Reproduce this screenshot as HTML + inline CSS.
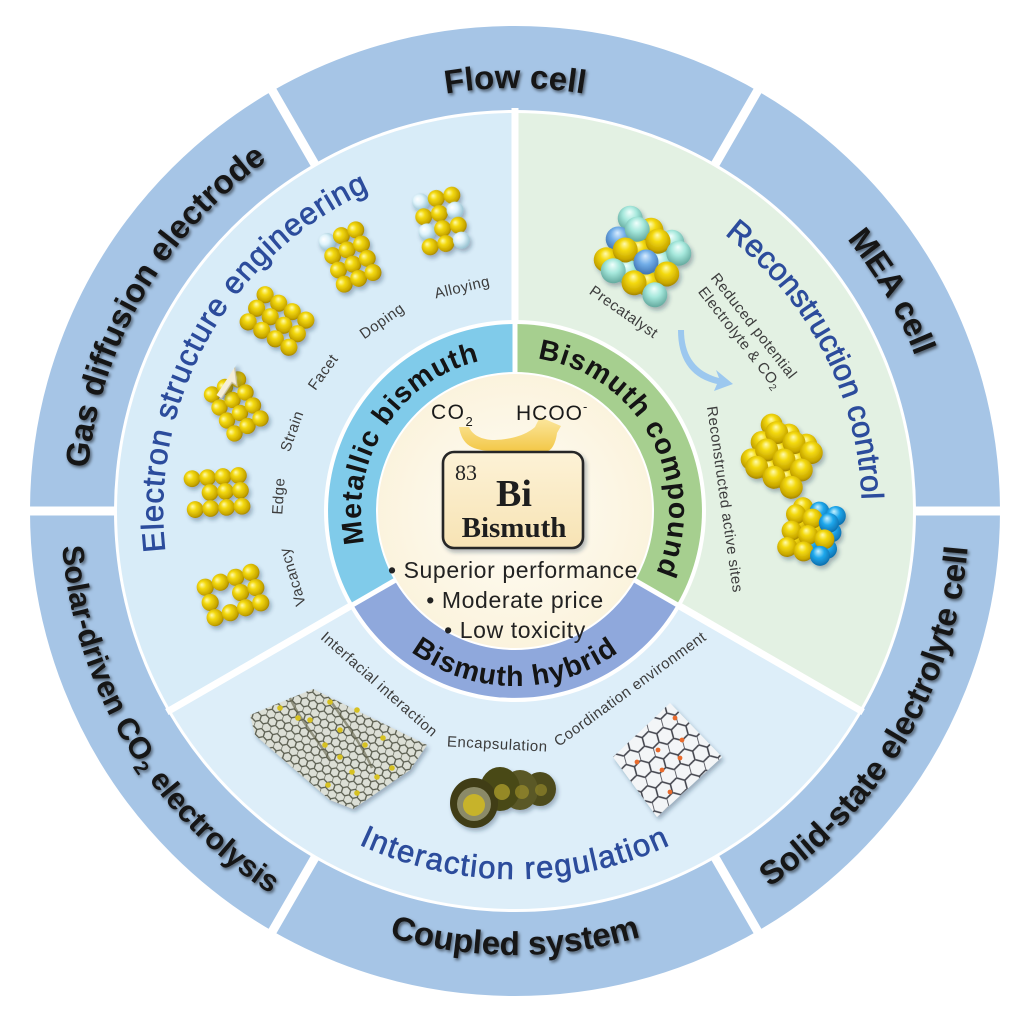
<!DOCTYPE html>
<html><head><meta charset="utf-8"><style>
html,body{margin:0;padding:0;background:#fff;}
svg{display:block;}
.ob{font-family:"Liberation Sans",Arial,sans-serif;font-weight:bold;font-size:33px;fill:#141414;text-anchor:middle;}
.mt{font-family:"Liberation Sans",Arial,sans-serif;font-size:31px;fill:#2c4c9c;stroke:#2c4c9c;stroke-width:0.7px;text-anchor:middle;}
.ib{font-family:"Liberation Sans",Arial,sans-serif;font-weight:bold;font-size:28.5px;fill:#141414;text-anchor:middle;letter-spacing:1px;}
.sl{font-family:"Liberation Sans",Arial,sans-serif;font-size:15px;fill:#3c3c3c;text-anchor:middle;letter-spacing:0.5px;}
.bl{font-family:"Liberation Sans",Arial,sans-serif;font-size:23px;fill:#222;text-anchor:middle;letter-spacing:0.6px;}
</style></head><body>
<svg width="1024" height="1024" viewBox="0 0 1024 1024" xmlns="http://www.w3.org/2000/svg">
<defs>
<filter id="ts" filterUnits="userSpaceOnUse" x="0" y="0" width="1024" height="1024"><feDropShadow dx="1.5" dy="2" stdDeviation="1.6" flood-color="#000" flood-opacity="0.55"/></filter>
<filter id="sh" filterUnits="userSpaceOnUse" x="0" y="0" width="1024" height="1024"><feDropShadow dx="2" dy="3" stdDeviation="2" flood-color="#1a3550" flood-opacity="0.35"/></filter>
<radialGradient id="gy" cx="45%" cy="42%" r="62%" fx="35%" fy="30%"><stop offset="0" stop-color="#fffbb0"/><stop offset="0.35" stop-color="#f4da10"/><stop offset="0.8" stop-color="#c9a800"/><stop offset="1" stop-color="#9a7c00"/></radialGradient>
<radialGradient id="gl" cx="45%" cy="42%" r="62%" fx="35%" fy="30%"><stop offset="0" stop-color="#ffffff"/><stop offset="0.45" stop-color="#dff3fb"/><stop offset="1" stop-color="#8fbccc"/></radialGradient>
<radialGradient id="ga" cx="45%" cy="42%" r="62%" fx="35%" fy="30%"><stop offset="0" stop-color="#f0fffc"/><stop offset="0.45" stop-color="#a6e8dc"/><stop offset="1" stop-color="#5fa59a"/></radialGradient>
<radialGradient id="gb" cx="45%" cy="42%" r="62%" fx="35%" fy="30%"><stop offset="0" stop-color="#d8ecff"/><stop offset="0.45" stop-color="#72aee8"/><stop offset="1" stop-color="#3b6fae"/></radialGradient>
<radialGradient id="gc" cx="45%" cy="42%" r="62%" fx="35%" fy="30%"><stop offset="0" stop-color="#c8f2ff"/><stop offset="0.45" stop-color="#1fa8ec"/><stop offset="1" stop-color="#0b6aa8"/></radialGradient>
<radialGradient id="gcream" cx="50%" cy="50%" r="50%"><stop offset="0" stop-color="#fffdf6"/><stop offset="1" stop-color="#fbf3dd"/></radialGradient>
<linearGradient id="gbox" x1="0" y1="0" x2="0" y2="1"><stop offset="0" stop-color="#fdf2d6"/><stop offset="1" stop-color="#f7e3b4"/></linearGradient>
<linearGradient id="garr" x1="0" y1="0" x2="0" y2="1"><stop offset="0" stop-color="#fbe7a0"/><stop offset="1" stop-color="#f3c848"/></linearGradient>
<pattern id="hex" patternUnits="userSpaceOnUse" width="10.392" height="18" patternTransform="rotate(18) scale(0.8)">
<path d="M0,3 L5.196,0 L10.392,3 M0,3 L0,9 L5.196,12 L10.392,9 M5.196,12 L5.196,18" fill="none" stroke="#55584a" stroke-width="1.6"/>
</pattern>
<pattern id="hex2" patternUnits="userSpaceOnUse" width="10.392" height="18" patternTransform="rotate(-15) scale(1.45)">
<path d="M0,3 L5.196,0 L10.392,3 M0,3 L0,9 L5.196,12 L10.392,9 M5.196,12 L5.196,18" fill="none" stroke="#45464f" stroke-width="1.1"/>
</pattern>
<path id="cwA" d="M515,940 A429,429 0 1 1 515,82 A429,429 0 1 1 515,940"/>
<path id="cwF" d="M515,934 A423,423 0 1 1 515,88 A423,423 0 1 1 515,934"/>
<path id="ccwA" d="M515,57 A454,454 0 1 0 515,965 A454,454 0 1 0 515,57"/>
<path id="ccwC" d="M515,67 A444,444 0 1 0 515,955 A444,444 0 1 0 515,67"/>
<path id="cwE" d="M515,863 A352,352 0 1 1 515,159 A352,352 0 1 1 515,863"/>
<path id="cwR" d="M515,858 A347,347 0 1 1 515,164 A347,347 0 1 1 515,858"/>
<path id="ccwI" d="M515,143 A368,368 0 1 0 515,879 A368,368 0 1 0 515,143"/>
<path id="cwB" d="M515,665 A154,154 0 1 1 515,357 A154,154 0 1 1 515,665"/>
<path id="ccwH" d="M515,336 A175,175 0 1 0 515,686 A175,175 0 1 0 515,336"/>
</defs>

<rect width="1024" height="1024" fill="#fff"/>

<circle cx="515" cy="511" r="442" fill="none" stroke="#a6c5e6" stroke-width="86"/>
<g stroke="#fff" stroke-width="9">
<line x1="712.5" y1="168.9" x2="762.5" y2="82.3"/>
<line x1="908" y1="511" x2="1012" y2="511"/>
<line x1="712.5" y1="853.1" x2="762.5" y2="939.7"/>
<line x1="317.5" y1="853.1" x2="267.5" y2="939.7"/>
<line x1="122" y1="511" x2="18" y2="511"/>
<line x1="317.5" y1="168.9" x2="267.5" y2="82.3"/>
</g>
<circle cx="515" cy="511" r="401" fill="#fff"/>

<path d="M515,511 L170.3,710 A398,398 0 0 1 515,113 Z" fill="#d8ecf8"/>
<path d="M515,511 L515,113 A398,398 0 0 1 859.7,710 Z" fill="#e3f1e3"/>
<path d="M515,511 L859.7,710 A398,398 0 0 1 170.3,710 Z" fill="#ddeef9"/>
<g stroke="#fff" stroke-width="7">
<line x1="515" y1="511" x2="515" y2="108"/>
<line x1="515" y1="511" x2="863.1" y2="712"/>
<line x1="515" y1="511" x2="166.9" y2="712"/>
</g>

<circle cx="515" cy="511" r="191" fill="#fff"/>
<path d="M515,511 L353.1,604.5 A187,187 0 0 1 515,324 Z" fill="#80cbea"/>
<path d="M515,511 L515,324 A187,187 0 0 1 676.9,604.5 Z" fill="#a6cf8f"/>
<path d="M515,511 L676.9,604.5 A187,187 0 0 1 353.1,604.5 Z" fill="#8fa8dc"/>
<g stroke="#fff" stroke-width="5">
<line x1="515" y1="511" x2="515" y2="318"/>
<line x1="515" y1="511" x2="682" y2="607.5"/>
<line x1="515" y1="511" x2="348" y2="607.5"/>
</g>
<circle cx="515" cy="511" r="138" fill="url(#gcream)" stroke="#fff" stroke-width="2"/>

<text class="ob" filter="url(#ts)"><textPath href="#cwA" startOffset="33.4%">Gas diffusion electrode</textPath></text>
<text class="ob" filter="url(#ts)"><textPath href="#cwF" startOffset="50%">Flow cell</textPath></text>
<text class="ob" filter="url(#ts)"><textPath href="#cwA" startOffset="66.6%">MEA cell</textPath></text>
<text class="ob" filter="url(#ts)" style="font-size:30.5px"><textPath href="#ccwA" startOffset="33.6%">Solar-driven CO<tspan font-size="20" dy="6">2</tspan><tspan dy="-6"> electrolysis</tspan></textPath></text>
<text class="ob" filter="url(#ts)"><textPath href="#ccwC" startOffset="50%">Coupled system</textPath></text>
<text class="ob" filter="url(#ts)"><textPath href="#ccwA" startOffset="66.6%">Solid-state electrolyte cell</textPath></text>

<text class="mt" style="letter-spacing:1px"><textPath href="#cwE" startOffset="33.2%">Electron structure engineering</textPath></text>
<text class="mt"><textPath href="#cwR" startOffset="67.4%">Reconstruction control</textPath></text>
<text class="mt" style="letter-spacing:1.5px"><textPath href="#ccwI" startOffset="50%">Interaction regulation</textPath></text>

<text class="ib"><textPath href="#cwB" startOffset="34%">Metallic bismuth</textPath></text>
<text class="ib"><textPath href="#cwB" startOffset="67%">Bismuth compound</textPath></text>
<text class="ib"><textPath href="#ccwH" startOffset="50%">Bismuth hybrid</textPath></text>

<text class="sl" x="515" y="284" transform="rotate(253.5 515 511)">Vacancy</text>
<text class="sl" x="515" y="279" transform="rotate(273.6 515 511)">Edge</text>
<text class="sl" x="515" y="279" transform="rotate(289.7 515 511)">Strain</text>
<text class="sl" x="515" y="279" transform="rotate(305.9 515 511)">Facet</text>
<text class="sl" x="515" y="284" transform="rotate(325 515 511)">Doping</text>
<text class="sl" x="515" y="286" transform="rotate(346.7 515 511)">Alloying</text>

<g filter="url(#sh)" fill="url(#gy)">
<g transform="translate(233,595) rotate(-18)">
<circle cx="-24" cy="-16" r="8.6"/><circle cx="-8" cy="-16" r="8.6"/><circle cx="8" cy="-16" r="8.6"/><circle cx="24" cy="-16" r="8.6"/>
<circle cx="-24" cy="0" r="8.6"/><circle cx="8" cy="0" r="8.6"/><circle cx="24" cy="0" r="8.6"/>
<circle cx="-24" cy="16" r="8.6"/><circle cx="-8" cy="16" r="8.6"/><circle cx="8" cy="16" r="8.6"/><circle cx="24" cy="16" r="8.6"/>
</g>
<g transform="translate(217,492) rotate(-4)">
<circle cx="-24" cy="-15" r="8.4"/><circle cx="-8.5" cy="-15" r="8.4"/><circle cx="7" cy="-15" r="8.4"/><circle cx="22.5" cy="-15" r="8.4"/>
<circle cx="-7" cy="0" r="8.4"/><circle cx="8.5" cy="0" r="8.4"/><circle cx="23.5" cy="0" r="8.4"/>
<circle cx="-23" cy="16" r="8.4"/><circle cx="-7.5" cy="16" r="8.4"/><circle cx="8.5" cy="16" r="8.4"/><circle cx="24" cy="16" r="8.4"/>
</g>
<g transform="translate(236,406) rotate(-30)">
<circle cx="-15" cy="-22" r="8.2"/><circle cx="0" cy="-22" r="8.2"/><circle cx="15" cy="-22" r="8.2"/>
<circle cx="-15" cy="-7" r="8.2"/><circle cx="0" cy="-7" r="8.2"/><circle cx="15" cy="-7" r="8.2"/>
<circle cx="-15" cy="8" r="8.2"/><circle cx="0" cy="8" r="8.2"/><circle cx="15" cy="8" r="8.2"/>
<circle cx="-15" cy="23" r="8.2"/><circle cx="0" cy="23" r="8.2"/><circle cx="15" cy="23" r="8.2"/>
</g>
<g transform="translate(277,321) rotate(32)">
<circle cx="-24" cy="-16" r="8.6"/><circle cx="-8" cy="-16" r="8.6"/><circle cx="8" cy="-16" r="8.6"/><circle cx="24" cy="-16" r="8.6"/>
<circle cx="-24" cy="0" r="8.6"/><circle cx="-8" cy="0" r="8.6"/><circle cx="8" cy="0" r="8.6"/><circle cx="24" cy="0" r="8.6"/>
<circle cx="-24" cy="16" r="8.6"/><circle cx="-8" cy="16" r="8.6"/><circle cx="8" cy="16" r="8.6"/><circle cx="24" cy="16" r="8.6"/>
</g>
<g transform="translate(350,257) rotate(-22)">
<circle cx="-15.5" cy="-23" r="8.5" fill="url(#gl)"/><circle cx="0" cy="-23" r="8.5"/><circle cx="15.5" cy="-23" r="8.5"/>
<circle cx="-15.5" cy="-7.7" r="8.5"/><circle cx="0" cy="-7.7" r="8.5"/><circle cx="15.5" cy="-7.7" r="8.5"/>
<circle cx="-15.5" cy="7.7" r="8.5"/><circle cx="0" cy="7.7" r="8.5"/><circle cx="15.5" cy="7.7" r="8.5"/>
<circle cx="-15.5" cy="23" r="8.5"/><circle cx="0" cy="23" r="8.5"/><circle cx="15.5" cy="23" r="8.5"/>
</g>
<g transform="translate(441,221) rotate(-12)">
<circle cx="-16" cy="-23" r="8.5" fill="url(#gl)"/><circle cx="0" cy="-23" r="8.5"/><circle cx="16" cy="-23" r="8.5"/>
<circle cx="-16" cy="-7.7" r="8.5"/><circle cx="0" cy="-7.7" r="8.5"/><circle cx="16" cy="-7.7" r="8.5" fill="url(#gl)"/>
<circle cx="-16" cy="7.7" r="8.5" fill="url(#gl)"/><circle cx="0" cy="7.7" r="8.5"/><circle cx="16" cy="7.7" r="8.5"/>
<circle cx="-16" cy="23" r="8.5"/><circle cx="0" cy="23" r="8.5"/><circle cx="16" cy="23" r="8.5" fill="url(#gl)"/>
</g>
</g>
<g transform="translate(216.5,395) rotate(-56.6)" filter="url(#sh)">
<polygon points="-33,0 -19,-12 -19,-6 19,-6 19,-12 33,0 19,12 19,6 -19,6 -19,12" fill="#f4eed9" stroke="#c9c1a6" stroke-width="1.2"/>
</g>

<g filter="url(#sh)">
<g transform="translate(639,251) rotate(30)">
<circle cx="-24" cy="-24" r="12.5" fill="url(#ga)"/><circle cx="0" cy="-24" r="12.5" fill="url(#gy)"/><circle cx="24" cy="-24" r="12.5" fill="url(#ga)"/>
<circle cx="-24" cy="0" r="12.5" fill="url(#gb)"/><circle cx="0" cy="0" r="12.5" fill="url(#gy)"/><circle cx="24" cy="0" r="12.5" fill="url(#ga)"/>
<circle cx="-24" cy="24" r="12.5" fill="url(#gy)"/><circle cx="0" cy="24" r="12.5" fill="url(#ga)"/><circle cx="24" cy="24" r="12.5" fill="url(#gy)"/>
</g>
<g transform="translate(646,262) rotate(30)">
<circle cx="-24" cy="-24" r="12.5" fill="url(#ga)"/><circle cx="0" cy="-24" r="12.5" fill="url(#gy)"/><circle cx="24" cy="-24" r="12.5" fill="url(#ga)"/>
<circle cx="-24" cy="0" r="12.5" fill="url(#gy)"/><circle cx="0" cy="0" r="12.5" fill="url(#gb)"/><circle cx="24" cy="0" r="12.5" fill="url(#gy)"/>
<circle cx="-24" cy="24" r="12.5" fill="url(#ga)"/><circle cx="0" cy="24" r="12.5" fill="url(#gy)"/><circle cx="24" cy="24" r="12.5" fill="url(#ga)"/>
</g>
<g transform="translate(779,452) rotate(30)" fill="url(#gy)">
<circle cx="-20" cy="-20" r="11"/><circle cx="0" cy="-20" r="11"/><circle cx="20" cy="-20" r="11"/>
<circle cx="-20" cy="0" r="11"/><circle cx="0" cy="0" r="11"/><circle cx="20" cy="0" r="11"/>
<circle cx="-20" cy="20" r="11"/><circle cx="0" cy="20" r="11"/><circle cx="20" cy="20" r="11"/>
</g>
<g transform="translate(784,460) rotate(30)" fill="url(#gy)">
<circle cx="-20" cy="-20" r="11.5"/><circle cx="0" cy="-20" r="11.5"/><circle cx="20" cy="-20" r="11.5"/>
<circle cx="-20" cy="0" r="11.5"/><circle cx="0" cy="0" r="11.5"/><circle cx="20" cy="0" r="11.5"/>
<circle cx="-20" cy="20" r="11.5"/><circle cx="0" cy="20" r="11.5"/><circle cx="20" cy="20" r="11.5"/>
</g>
<g transform="translate(815,528) rotate(15)">
<circle cx="-17" cy="-17" r="10" fill="url(#gy)"/><circle cx="0" cy="-17" r="10" fill="url(#gc)"/><circle cx="17" cy="-17" r="10" fill="url(#gc)"/>
<circle cx="-17" cy="0" r="10" fill="url(#gy)"/><circle cx="0" cy="0" r="10" fill="url(#gy)"/><circle cx="17" cy="0" r="10" fill="url(#gc)"/>
<circle cx="-17" cy="17" r="10" fill="url(#gy)"/><circle cx="0" cy="17" r="10" fill="url(#gc)"/><circle cx="17" cy="17" r="10" fill="url(#gc)"/>
</g>
<g transform="translate(808,535) rotate(15)">
<circle cx="-17" cy="-17" r="10" fill="url(#gy)"/><circle cx="0" cy="-17" r="10" fill="url(#gy)"/><circle cx="17" cy="-17" r="10" fill="url(#gc)"/>
<circle cx="-17" cy="0" r="10" fill="url(#gy)"/><circle cx="0" cy="0" r="10" fill="url(#gy)"/><circle cx="17" cy="0" r="10" fill="url(#gy)"/>
<circle cx="-17" cy="17" r="10" fill="url(#gy)"/><circle cx="0" cy="17" r="10" fill="url(#gy)"/><circle cx="17" cy="17" r="10" fill="url(#gc)"/>
</g>
</g>
<path d="M684,330 C684,356 696,372 719,378 L716,370 L733,384 L714,391 L717,384 C691,378 678,360 678,330 Z" fill="#9cc8ef"/>
<text class="sl" transform="translate(621,316) rotate(35)">Precatalyst</text>
<text class="sl" transform="translate(750,329) rotate(52)">Reduced potential</text>
<text class="sl" transform="translate(736,341) rotate(52)">Electrolyte &amp; CO<tspan font-size="10" dy="3">2</tspan></text>
<text class="sl" transform="translate(720,500) rotate(82)">Reconstructed active sites</text>

<g filter="url(#sh)">
<polygon points="250,715 313,689 427,745 410,770 353,809 330,800 255,735" fill="#dcdfd6"/>
<polygon points="250,715 313,689 427,745 410,770 353,809 330,800 255,735" fill="url(#hex)"/>
</g>
<path d="M290,698 C300,720 318,740 330,760 M330,700 C345,722 362,745 372,768" stroke="#5d5d45" stroke-width="2.5" fill="none" opacity="0.6"/>
<g fill="#d6c122">
<circle cx="280" cy="708" r="2.8"/><circle cx="330" cy="702" r="2.8"/><circle cx="357" cy="710" r="2.8"/><circle cx="298" cy="718" r="2.8"/><circle cx="310" cy="720" r="2.8"/><circle cx="340" cy="730" r="2.8"/><circle cx="383" cy="738" r="2.8"/><circle cx="365" cy="745" r="2.8"/><circle cx="325" cy="745" r="2.8"/><circle cx="340" cy="757" r="2.8"/><circle cx="352" cy="772" r="2.8"/><circle cx="377" cy="777" r="2.8"/><circle cx="392" cy="768" r="2.8"/><circle cx="328" cy="785" r="2.8"/><circle cx="357" cy="793" r="2.8"/>
</g>

<g filter="url(#sh)">
<ellipse cx="540" cy="789" rx="16" ry="17" fill="#4e4c1e"/>
<ellipse cx="520" cy="790" rx="18" ry="20" fill="#5a5828"/>
<ellipse cx="500" cy="789" rx="20" ry="22" fill="#4a4819"/>
<ellipse cx="474" cy="803" rx="24" ry="25" fill="#3f3d14"/>
<circle cx="474" cy="804" r="17" fill="#8b8a68"/>
<circle cx="474" cy="805" r="11" fill="#c7b32c"/>
<circle cx="502" cy="792" r="8" fill="#a89a2c" opacity="0.8"/>
<circle cx="522" cy="792" r="7" fill="#9a8d2a" opacity="0.7"/>
<circle cx="541" cy="790" r="6" fill="#8f8428" opacity="0.7"/>
</g>

<g filter="url(#sh)">
<polygon points="670,703 722,757 657,817 613,757" fill="#f3f5f7"/>
<polygon points="670,703 722,757 657,817 613,757" fill="url(#hex2)"/>
</g>
<g fill="#e86a2c">
<circle cx="675" cy="718" r="2.4"/><circle cx="682" cy="740" r="2.4"/><circle cx="658" cy="750" r="2.4"/><circle cx="637" cy="762" r="2.4"/><circle cx="662" cy="770" r="2.4"/><circle cx="680" cy="758" r="2.4"/><circle cx="670" cy="792" r="2.4"/>
</g>

<text class="sl" transform="translate(376,688) rotate(41.5)">Interfacial interaction</text>
<text class="sl" transform="translate(497,749) rotate(3)">Encapsulation</text>
<text class="sl" transform="translate(633,693) rotate(-36)">Coordination environment</text>

<path d="M459,427 C462,445 472,451 495,451 L548,451 C553,449 556,441 557,433 L561,426 L540,417 L535,427 C525,436 508,440 492,440 C479,439 472,434 469,427 Z" fill="url(#garr)"/>
<text x="431" y="419" style="font-family:'Liberation Sans',Arial,sans-serif;font-size:21px;fill:#1a1a1a;letter-spacing:1.5px">CO<tspan font-size="13" dy="7">2</tspan></text>
<text x="516" y="420" style="font-family:'Liberation Sans',Arial,sans-serif;font-size:21px;fill:#1a1a1a;letter-spacing:1px">HCOO<tspan font-size="13" dy="-9">-</tspan></text>
<rect x="443" y="452" width="140" height="96" rx="11" fill="url(#gbox)" stroke="#262626" stroke-width="2.6" filter="url(#sh)"/>
<text x="455" y="480" style="font-family:'Liberation Serif','Times New Roman',serif;font-size:22px;fill:#222">83</text>
<text x="514" y="506" text-anchor="middle" style="font-family:'Liberation Serif','Times New Roman',serif;font-weight:bold;font-size:38px;fill:#1e1e1e">Bi</text>
<text x="514" y="537" text-anchor="middle" style="font-family:'Liberation Serif','Times New Roman',serif;font-weight:bold;font-size:29px;fill:#1e1e1e">Bismuth</text>
<text class="bl" x="513" y="578">• Superior performance</text>
<text class="bl" x="515" y="608">• Moderate price</text>
<text class="bl" x="515" y="638">• Low toxicity</text>
</svg>
</body></html>
